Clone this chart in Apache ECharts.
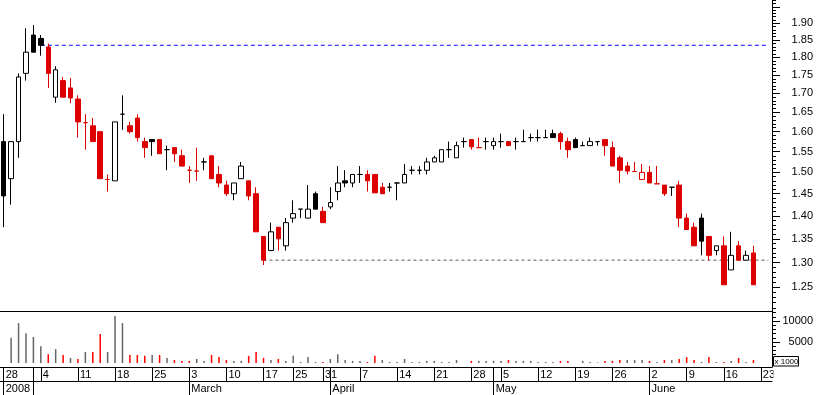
<!DOCTYPE html>
<html>
<head>
<meta charset="utf-8">
<script src="https://cdn.jsdelivr.net/npm/echarts@6/dist/echarts.min.js"></script>
<style>
  html, body { margin: 0; padding: 0; background: #fff; }
  #chart { width: 817px; height: 395px; }
</style>
</head>
<body>
<div id="chart"></div>
<script>
// ---- data ----
const dates = [
  '2008-01-28','2008-01-29','2008-01-30','2008-01-31',
  '2008-02-01','2008-02-04','2008-02-05','2008-02-06','2008-02-07','2008-02-08','2008-02-11','2008-02-12','2008-02-13','2008-02-14','2008-02-15',
  '2008-02-18','2008-02-19','2008-02-20','2008-02-21','2008-02-22','2008-02-25','2008-02-26','2008-02-27','2008-02-28','2008-02-29',
  '2008-03-03','2008-03-04','2008-03-05','2008-03-06','2008-03-07','2008-03-10','2008-03-11','2008-03-12','2008-03-13','2008-03-14',
  '2008-03-17','2008-03-18','2008-03-19','2008-03-20','2008-03-25','2008-03-26','2008-03-27','2008-03-28','2008-03-31',
  '2008-04-01','2008-04-02','2008-04-03','2008-04-04','2008-04-07','2008-04-08','2008-04-09','2008-04-10','2008-04-11',
  '2008-04-14','2008-04-15','2008-04-16','2008-04-17','2008-04-18','2008-04-21','2008-04-22','2008-04-23','2008-04-24','2008-04-25',
  '2008-04-28','2008-04-29','2008-04-30',
  '2008-05-02','2008-05-05','2008-05-06','2008-05-07','2008-05-08','2008-05-09','2008-05-12','2008-05-13','2008-05-14','2008-05-15','2008-05-16',
  '2008-05-19','2008-05-20','2008-05-21','2008-05-22','2008-05-23','2008-05-26','2008-05-27','2008-05-28','2008-05-29','2008-05-30',
  '2008-06-02','2008-06-03','2008-06-04','2008-06-05','2008-06-06','2008-06-09','2008-06-10','2008-06-11','2008-06-12','2008-06-13',
  '2008-06-16','2008-06-17','2008-06-18','2008-06-19','2008-06-20','2008-06-23','2008-06-24'
];

const open = [
  1.575,1.485,1.575,1.755,1.865,1.855,1.83,1.69,1.735,1.715,
  1.685,1.623,1.615,1.60,1.483,1.48,1.645,1.615,1.635,1.575,
  1.58,1.58,1.555,1.56,1.54,1.505,1.503,1.525,1.54,1.495,
  1.47,1.45,1.485,1.48,1.45,1.355,1.325,1.375,1.335,1.395,
  1.415,1.395,1.45,1.41,1.42,1.455,1.48,1.475,1.495,1.495,
  1.495,1.465,1.465,1.475,1.475,1.505,1.505,1.505,1.525,1.525,
  1.555,1.535,1.575,1.58,1.56,1.575,1.565,1.575,1.575,1.575,
  1.575,1.585,1.585,1.585,1.595,1.595,1.575,1.58,1.565,1.565,
  1.575,1.58,1.56,1.535,1.515,1.502,1.483,1.50,1.473,1.47,
  1.465,1.47,1.395,1.375,1.395,1.355,1.325,1.335,1.285,1.335,
  1.305,1.32
];
const high = [
  1.645,1.575,1.755,1.885,1.895,1.865,1.84,1.775,1.745,1.742,
  1.695,1.645,1.635,1.60,1.495,1.625,1.695,1.625,1.645,1.585,
  1.58,1.58,1.565,1.56,1.555,1.515,1.56,1.535,1.54,1.515,
  1.48,1.475,1.525,1.48,1.465,1.355,1.385,1.375,1.395,1.435,
  1.415,1.47,1.455,1.42,1.465,1.515,1.505,1.495,1.515,1.505,
  1.495,1.475,1.475,1.475,1.52,1.515,1.515,1.535,1.54,1.555,
  1.575,1.575,1.585,1.58,1.585,1.585,1.585,1.595,1.575,1.585,
  1.605,1.595,1.605,1.605,1.605,1.60,1.585,1.585,1.575,1.585,
  1.575,1.58,1.575,1.54,1.525,1.525,1.52,1.515,1.515,1.47,
  1.465,1.48,1.405,1.385,1.405,1.355,1.335,1.355,1.365,1.345,
  1.325,1.335
];
const low = [
  1.375,1.425,1.535,1.735,1.815,1.805,1.715,1.675,1.69,1.674,
  1.585,1.555,1.575,1.485,1.455,1.48,1.605,1.595,1.575,1.535,
  1.54,1.545,1.505,1.525,1.515,1.475,1.48,1.505,1.485,1.465,
  1.445,1.435,1.485,1.435,1.365,1.295,1.325,1.325,1.325,1.385,
  1.395,1.395,1.415,1.385,1.415,1.435,1.465,1.465,1.475,1.455,
  1.452,1.45,1.455,1.435,1.475,1.495,1.495,1.495,1.525,1.525,
  1.535,1.535,1.56,1.555,1.56,1.555,1.555,1.56,1.565,1.555,
  1.575,1.575,1.575,1.585,1.585,1.555,1.535,1.56,1.565,1.565,
  1.565,1.54,1.515,1.475,1.495,1.502,1.483,1.475,1.473,1.445,
  1.445,1.375,1.37,1.335,1.315,1.305,1.315,1.255,1.285,1.305,
  1.305,1.255
];
const close = [
  1.445,1.575,1.745,1.815,1.815,1.835,1.755,1.765,1.69,1.688,
  1.625,1.623,1.575,1.485,1.483,1.625,1.645,1.60,1.585,1.56,
  1.575,1.545,1.555,1.545,1.515,1.505,1.503,1.525,1.485,1.475,
  1.45,1.475,1.515,1.445,1.365,1.305,1.365,1.35,1.385,1.405,
  1.415,1.415,1.415,1.385,1.43,1.475,1.475,1.495,1.495,1.48,
  1.452,1.45,1.465,1.475,1.495,1.505,1.505,1.525,1.535,1.555,
  1.555,1.565,1.575,1.562,1.56,1.575,1.575,1.575,1.565,1.575,
  1.575,1.585,1.585,1.585,1.585,1.575,1.555,1.56,1.565,1.575,
  1.575,1.565,1.515,1.505,1.503,1.502,1.50,1.475,1.473,1.45,
  1.465,1.395,1.37,1.335,1.345,1.315,1.335,1.255,1.315,1.305,
  1.315,1.255
];
// volume in thousands of shares
const volume = [
  0,6000,9500,7100,6200,4000,2100,3300,1900,1200,
  950,2600,2600,6900,2600,11200,9500,1900,1900,1700,
  1900,1900,1200,700,500,500,950,500,1900,1400,
  700,500,500,1700,2600,1200,700,950,500,1700,
  250,1400,250,250,950,2100,700,500,500,250,
  1700,700,250,250,950,250,250,500,500,250,
  250,700,0,500,500,500,500,500,700,500,
  500,500,250,250,250,500,500,0,500,250,
  120,500,500,700,700,700,700,500,250,700,
  700,950,1400,700,250,1400,250,250,500,1200,
  250,700
];
// 1 = bar drawn red (down day) in the picture
const volumeDown = [
  0,0,0,0,0,0,1,0,1,0,
  1,0,1,1,0,0,0,1,1,1,
  0,1,0,1,1,1,0,0,1,1,
  1,0,0,1,1,1,0,1,0,0,
  0,0,0,1,0,0,0,0,0,1,
  1,0,0,0,0,0,0,0,0,0,
  0,0,0,1,0,0,0,0,1,0,
  0,0,0,0,0,1,1,0,0,0,
  0,1,1,1,0,0,0,1,0,1,
  0,1,1,1,0,1,0,1,0,1,
  0,1
];
const priceLabels = [1.25,1.30,1.35,1.40,1.45,1.50,1.55,1.60,1.65,1.70,1.75,1.80,1.85,1.90];
const volumeLabels = [5000, 10000];
const monthText = ['2008', '', 'March', 'April', 'May', 'June'];
const resistanceDay = 5;   // dashed blue level = close of this day
const supportDay = 35;     // dashed grey level = close of this day

// ---- styles ----
const RED = '#dc0000';
const VRED = '#ff0000';
const VGREY = '#666666';
const FONT = 'Liberation Sans, Arial, sans-serif';
const LN = Math.log;

// axis ticks (log scale drawn on ln values)
const minorTicks = [];
for (let k = 121; k <= 197; k++) minorTicks.push(LN(k / 100));
const majorTicks = [];
for (let k = 125; k <= 195; k += 5) majorTicks.push(LN(k / 100));
const labelTicks = priceLabels.map(LN);
const volMinor = [];
for (let k = 1000; k <= 12000; k += 1000) volMinor.push(k);

const dObj = dates.map(s => new Date(s + 'T00:00:00Z'));
const isWeekStart = i => i === 0 || dObj[i].getUTCDay() < dObj[i - 1].getUTCDay();
const isMonthStart = i => i === 0 || dObj[i].getUTCMonth() !== dObj[i - 1].getUTCMonth();

const candles = open.map((o, i) => {
  const c = close[i];
  const down = i > 0 && c < close[i - 1];
  const line = down ? RED : '#000000';
  const fill = c > o ? '#ffffff' : line;
  return {
    value: [LN(o), LN(c), LN(low[i]), LN(high[i])],
    itemStyle: { color: fill, color0: fill, borderColor: line, borderColor0: line, borderColorDoji: line, borderWidth: 1 }
  };
});
const vols = volume.map((v, i) => ({ value: v, itemStyle: { color: volumeDown[i] ? VRED : VGREY } }));

// horizontal level from a given day's close to the right edge
function levelLine(day, color, dash) {
  const y = LN(close[day]);
  return {
    type: 'line', xAxisIndex: 0, yAxisIndex: 0, silent: true, z: 1,
    data: dates.map((d, i) => (i >= day ? y : null)),
    showSymbol: false, symbol: 'none', connectNulls: false,
    color: color,
    itemStyle: { color: color },
    lineStyle: { color: color, type: dash, width: 1, opacity: 1 },
    emphasis: { disabled: true }
  };
}

const yMin = LN(1.2039), yMax = LN(1.9716);
const volMax = 12380, volMin = -952;

const chart = echarts.init(document.getElementById('chart'), null, { renderer: 'canvas' });
chart.setOption({
  animation: false,
  backgroundColor: '#ffffff',
  textStyle: { fontFamily: FONT },
  tooltip: { show: false },
  grid: [
    { left: 0, top: 0, width: 772, height: 311 },
    { left: 0, top: 311, width: 772, height: 56 }
  ],
  xAxis: [
    { type: 'category', gridIndex: 0, data: dates, boundaryGap: true, position: 'bottom',
      axisLine: { show: true, onZero: false, lineStyle: { color: '#000', width: 1 } },
      axisTick: { show: false }, axisLabel: { show: false }, splitLine: { show: false } },
    { type: 'category', gridIndex: 1, data: dates, boundaryGap: true, position: 'bottom',
      axisLine: { show: true, onZero: false, lineStyle: { color: '#000', width: 1 } },
      axisTick: { show: true, alignWithLabel: true, inside: false, length: 14,
        interval: (i) => isWeekStart(i) || isMonthStart(i), lineStyle: { color: '#000', width: 1 } },
      axisLabel: { show: true, interval: (i) => isWeekStart(i), margin: 2, align: 'left', padding: [0, 0, 0, 2],
        formatter: (v) => String(Number(v.slice(8))), color: '#000', fontSize: 11, fontFamily: FONT },
      splitLine: { show: false } },
    { type: 'category', gridIndex: 1, data: dates, boundaryGap: true, position: 'bottom', offset: 14,
      axisLine: { show: true, onZero: false, lineStyle: { color: '#000', width: 1 } },
      axisTick: { show: true, alignWithLabel: true, inside: false, length: 14,
        interval: (i) => isMonthStart(i), lineStyle: { color: '#000', width: 1 } },
      axisLabel: { show: true, interval: (i) => isMonthStart(i), margin: 2, align: 'left', padding: [0, 0, 0, 2],
        formatter: (v) => monthText[Number(v.slice(5, 7)) - 1], color: '#000', fontSize: 11, fontFamily: FONT },
      splitLine: { show: false } }
  ],
  yAxis: [
    { type: 'value', gridIndex: 0, position: 'right', min: yMin, max: yMax,
      axisLine: { show: true, lineStyle: { color: '#000', width: 1 } },
      axisTick: { show: true, length: 4, customValues: minorTicks, lineStyle: { color: '#000' } },
      axisLabel: { show: false }, splitLine: { show: false } },
    { type: 'value', gridIndex: 0, position: 'right', min: yMin, max: yMax,
      axisLine: { show: false },
      axisTick: { show: true, length: 8, customValues: majorTicks, lineStyle: { color: '#000' } },
      axisLabel: { show: true, customValues: labelTicks, align: 'right', margin: 41,
        formatter: (v) => Math.exp(v).toFixed(2), color: '#000', fontSize: 11, fontFamily: FONT },
      splitLine: { show: false } },
    { type: 'value', gridIndex: 1, position: 'right', min: volMin, max: volMax,
      axisLine: { show: true, lineStyle: { color: '#000', width: 1 } },
      axisTick: { show: true, length: 4, customValues: volMinor, lineStyle: { color: '#000' } },
      axisLabel: { show: false }, splitLine: { show: false } },
    { type: 'value', gridIndex: 1, position: 'right', min: volMin, max: volMax,
      axisLine: { show: false },
      axisTick: { show: true, length: 8, customValues: volumeLabels, lineStyle: { color: '#000' } },
      axisLabel: { show: true, customValues: volumeLabels, align: 'right', margin: 41,
        formatter: (v) => String(v), color: '#000', fontSize: 11, fontFamily: FONT },
      splitLine: { show: false } }
  ],
  series: [
    levelLine(resistanceDay, '#0000ff', [4, 3]),
    levelLine(supportDay, '#555555', [3, 3]),
    { type: 'candlestick', xAxisIndex: 0, yAxisIndex: 0, data: candles, barWidth: 5, silent: true, z: 3 },
    { type: 'bar', xAxisIndex: 1, yAxisIndex: 2, data: vols, barWidth: 1.5, silent: true }
  ],
  graphic: {
    z: 100,
    elements: [
      { type: 'rect', z: 100, shape: { x: 773.5, y: 368, width: 44, height: 27 }, style: { fill: '#fff' } },
      { type: 'rect', z: 101, shape: { x: 773.5, y: 356.5, width: 25, height: 9.5 }, style: { fill: '#fff', stroke: '#000', lineWidth: 1 } },
      { type: 'text', z: 102, style: { text: 'x 1000', x: 774.5, y: 361.5, font: '8px ' + FONT, fill: '#000', verticalAlign: 'middle' } }
    ]
  }
});
</script>
</body>
</html>
